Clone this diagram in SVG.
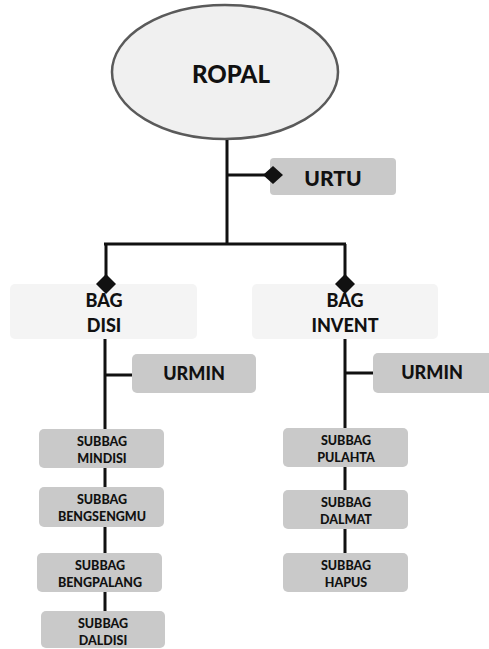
<svg xmlns="http://www.w3.org/2000/svg" width="489" height="649" viewBox="0 0 489 649">
<style>
.ln{stroke:#111;stroke-width:3;fill:none}
.dm{fill:#111}
.gb{fill:#c9c9c9}
.lb{fill:#f4f4f4}
text{font-family:Lato,"Open Sans","Liberation Sans",sans-serif;font-weight:900;fill:#111;text-anchor:middle}
.s{font-size:12.5px}
.m{font-size:18px}
</style>
<rect width="489" height="649" fill="#fff"/>
<g id="ropal">
<ellipse cx="225" cy="72" rx="113" ry="67" fill="#f0f0f0" stroke="#5a5a5a" stroke-width="2.5"/>
<text x="231" y="83" font-size="24">ROPAL</text>
</g>
<g id="urtu">
<rect class="gb" x="270" y="158" width="126" height="37" rx="4"/>
<text x="333" y="186" font-size="21">URTU</text>
</g>
<g id="bag-disi">
<rect class="lb" x="10" y="284" width="187" height="55" rx="5"/>
<text class="m" x="104" y="307">BAG</text>
<text class="m" x="104" y="332">DISI</text>
</g>
<g id="bag-invent">
<rect class="lb" x="252" y="284" width="186" height="55" rx="5"/>
<text class="m" x="345" y="307">BAG</text>
<text class="m" x="345" y="332">INVENT</text>
</g>
<g id="urmin-disi">
<rect class="gb" x="132" y="354" width="124" height="39" rx="5"/>
<text class="m" x="194" y="380">URMIN</text>
</g>
<g id="urmin-invent">
<rect class="gb" x="373" y="353" width="122" height="40" rx="5"/>
<text class="m" x="432" y="379">URMIN</text>
</g>
<g id="subbag-mindisi">
<rect class="gb" x="39" y="429" width="125" height="39" rx="5"/>
<text class="s" x="102" y="446">SUBBAG</text>
<text class="s" x="102" y="463">MINDISI</text>
</g>
<g id="subbag-bengsengmu">
<rect class="gb" x="39" y="487" width="125" height="40" rx="5"/>
<text class="s" x="102" y="504">SUBBAG</text>
<text class="s" x="102" y="521">BENGSENGMU</text>
</g>
<g id="subbag-bengpalang">
<rect class="gb" x="37" y="553" width="125" height="39" rx="5"/>
<text class="s" x="100" y="570">SUBBAG</text>
<text class="s" x="100" y="587">BENGPALANG</text>
</g>
<g id="subbag-daldisi">
<rect class="gb" x="41" y="611" width="124" height="37" rx="5"/>
<text class="s" x="103" y="628">SUBBAG</text>
<text class="s" x="103" y="645">DALDISI</text>
</g>
<g id="subbag-pulahta">
<rect class="gb" x="283" y="428" width="125" height="39" rx="5"/>
<text class="s" x="346" y="445">SUBBAG</text>
<text class="s" x="346" y="462">PULAHTA</text>
</g>
<g id="subbag-dalmat">
<rect class="gb" x="283" y="490" width="125" height="39" rx="5"/>
<text class="s" x="346" y="507">SUBBAG</text>
<text class="s" x="346" y="524">DALMAT</text>
</g>
<g id="subbag-hapus">
<rect class="gb" x="283" y="553" width="125" height="39" rx="5"/>
<text class="s" x="346" y="570">SUBBAG</text>
<text class="s" x="346" y="587">HAPUS</text>
</g>
<g id="connectors">
<path class="ln" d="M227 140V244M228 175H266M104 244H346M106 244V284M345 244V284"/>
<path class="ln" d="M105 339V375H132M105 375V429M105 468V487M105 527V553M105 592V611"/>
<path class="ln" d="M345 339V373H373M345 373V428M345 467V490M345 529V553"/>
<path class="dm" d="M263 175L273 166L283 175L273 184Z"/>
<path class="dm" d="M96 284L106 274L116 284L106 294Z"/>
<path class="dm" d="M335 284L345 274L355 284L345 294Z"/>
</g>
</svg>
